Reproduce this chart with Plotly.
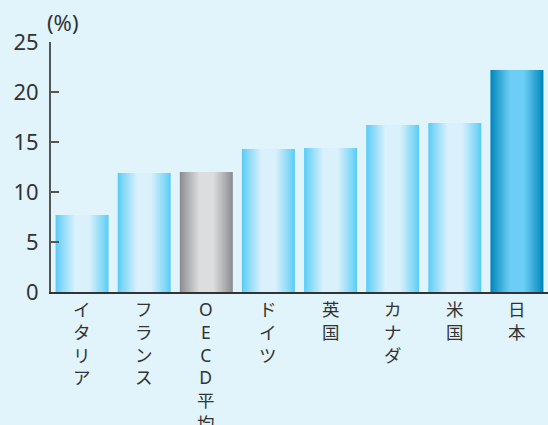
import plotly.graph_objects as go

categories = ["イタリア", "フランス", "OECD平均", "ドイツ", "英国", "カナダ", "米国", "日本"]
values = [7.7, 11.9, 12.0, 14.3, 14.4, 16.7, 16.9, 22.2]
kinds = ["normal", "normal", "oecd", "normal", "normal", "normal", "normal", "japan"]
y_ticks = [0, 5, 10, 15, 20, 25]

# gradient stops: edge colour -> centre colour
palette = {
    "normal": ((91, 205, 245), (218, 241, 252)),
    "oecd": ((138, 140, 143), (220, 221, 222)),
    "japan": ((0, 134, 186), (108, 206, 244)),
}

def mix(a, b, t):
    return "rgb(%d,%d,%d)" % tuple(round(a[i] + (b[i] - a[i]) * t) for i in range(3))

fig = go.Figure()
N = 18
W = 0.853
x_idx = list(range(len(categories)))
for k in range(N):
    t = k / (N - 1)
    width = W * (1 - 0.72 * t)
    colors = [mix(palette[kd][0], palette[kd][1], t ** 0.9) for kd in kinds]
    fig.add_trace(go.Bar(
        x=x_idx, y=values, width=width,
        marker=dict(color=colors, line=dict(width=0)),
        hoverinfo="skip" if k else "y", showlegend=False,
    ))

# vertical (top-to-bottom) category labels, one character per line
for i, name in enumerate(categories):
    fig.add_annotation(
        text="<br>".join(list(name)), x=i, y=0, xref="x", yref="y",
        xanchor="center", yanchor="top", align="center",
        yshift=-3, showarrow=False,
        font=dict(size=17.5, color="#333333",
                  family="Noto Sans, Noto Sans CJK JP"),
    )

fig.update_layout(
    barmode="overlay",
    width=548, height=425,
    margin=dict(l=51, r=0, t=42, b=133, autoexpand=False),
    paper_bgcolor="#E1F3FB", plot_bgcolor="#E1F3FB",
    font=dict(family="Noto Sans CJK JP", color="#333333"),
    showlegend=False,
)
fig.update_xaxes(
    range=[-0.5, 7.5], automargin=False,
    showticklabels=False,
    ticks="", showline=True, linecolor="#333333", linewidth=2,
    showgrid=False, zeroline=False,
)
fig.update_yaxes(
    range=[0, 25], tickmode="array", tickvals=y_ticks, automargin=False,
    tickfont=dict(size=22, color="#333333", family="Noto Sans"),
    ticks="inside", ticklen=8, tickwidth=2, tickcolor="#555555",
    showline=True, linecolor="#555555", linewidth=2,
    showgrid=False, zeroline=False, ticklabelstandoff=6,
)
fig.add_annotation(
    text="(%)", xref="paper", yref="paper", x=0, y=1,
    xanchor="left", yanchor="bottom", xshift=-6, yshift=3,
    showarrow=False, font=dict(size=22, color="#333333", family="Noto Sans"),
)
fig.write_html("out.html")
